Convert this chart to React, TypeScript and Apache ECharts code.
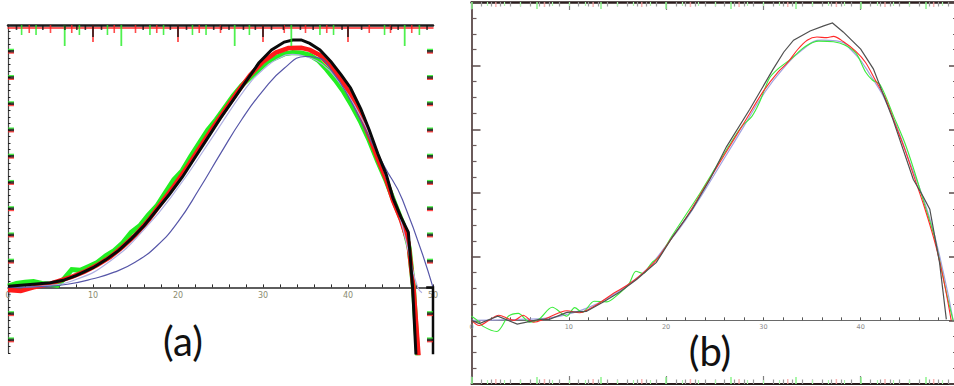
import React, { useEffect, useRef } from "react";
import * as echarts from "echarts";

// ---------- Panel (a) curves: [x, y] ----------
const blackA = [[0,0.004],[1.5,0.008],[3,0.012],[5,0.018],[6.5,0.027],[8,0.045],[10,0.075],[11.5,0.105],[13,0.14],[14.5,0.185],[16,0.235],[17.5,0.295],[19,0.355],[20.5,0.42],[22,0.495],[23.5,0.57],[25,0.645],[26.5,0.715],[28,0.785],[29.5,0.855],[31,0.905],[32.5,0.935],[33.5,0.943],[34.5,0.943],[35.5,0.93],[36.7,0.905],[38,0.86],[39.2,0.81],[40.3,0.76],[41.5,0.68],[42.5,0.6],[43.5,0.51],[44.5,0.43],[45.3,0.34],[46.2,0.27],[47.1,0.21],[47.6,0.0],[48.0,-0.26]];
const blackTailA = [[49.2,0],[50,0],[50,-0.26]];
const redA = [[0,-0.01],[1.5,-0.014],[3,0.0],[4.5,0.01],[6,0.025],[7.5,0.04],[9,0.06],[10.5,0.085],[12,0.115],[13.5,0.155],[15,0.2],[16.5,0.255],[18,0.32],[19.5,0.385],[21,0.455],[22.5,0.53],[24,0.605],[25.5,0.675],[27,0.745],[28.5,0.81],[30,0.86],[31.5,0.895],[33,0.912],[34.5,0.913],[35.5,0.905],[36.7,0.885],[38,0.84],[39.2,0.79],[40.3,0.735],[41.5,0.655],[42.5,0.575],[43.5,0.49],[44.5,0.41],[45.3,0.33],[46.2,0.26],[47.1,0.17],[47.7,0.0],[48.3,-0.26]];
const greenA = [[0,0.005],[1,0.015],[2,0.02],[3,0.022],[4,0.015],[5,0.012],[5.8,0.008],[6.5,0.03],[7.5,0.068],[8.5,0.065],[9.5,0.08],[10.5,0.095],[11.5,0.12],[12.5,0.14],[13.5,0.17],[14.5,0.21],[15.5,0.235],[16.5,0.275],[17.5,0.31],[18.5,0.36],[19.5,0.41],[20.5,0.445],[21.5,0.5],[22.5,0.55],[23.5,0.6],[24.5,0.64],[25.5,0.685],[26.5,0.73],[27.5,0.77],[28.5,0.8],[29.5,0.83],[30.5,0.86],[31.5,0.875],[32.5,0.89],[33.5,0.895],[34.5,0.893],[35.5,0.885],[36.5,0.865],[37.5,0.83],[38.5,0.79],[39.5,0.745],[40.5,0.69],[41.5,0.63],[42.5,0.56],[43.5,0.48],[44.5,0.405],[45.5,0.32],[46.5,0.24],[47.2,0.15],[47.7,0.0],[48.2,-0.26]];
const lavenderA = [[0,0],[4,0.005],[8,0.03],[12,0.1],[16,0.22],[20,0.38],[24,0.57],[28,0.76],[30,0.83],[32,0.875],[33.5,0.888],[35,0.88],[37,0.85],[39,0.78],[41,0.68],[43,0.55],[44.5,0.42],[46,0.28],[47.3,0.11],[48.2,0],[48.7,-0.02]];
const blueA = [[0,0],[4,0.003],[7,0.012],[10,0.033],[12.5,0.058],[15,0.097],[17.5,0.158],[20,0.25],[22.5,0.375],[25,0.51],[27.5,0.64],[30,0.75],[32.5,0.835],[35,0.88],[36.5,0.875],[38.2,0.82],[40,0.73],[42.2,0.59],[44.3,0.46],[46.4,0.335],[50,0]];

// ---------- Panel (a) rug / side tick positions ----------
const aBlackShort = [1.0,4.1,6.7,8.1,9.1,11,15.9,19.1,21,24.2,25.1,26,27.7,29.1,31,32.4,34.4,35.9,39.3,41.6,45.1,45.9,49.3];
const aBlackLong = [10,20,30,40];
const aRed = [2.5,5,7.5,12.5,15,17.5,22.5,25,32.5,35,37.5,42.5,45,47.5];
const aGreenLong = [6.67,13.33,26.67,33.33,46.67];
const aGreenMid = [1.6,3.3,8.4,11.7,16.7,18.3,21.7,23.3,28.4,36.7,38.3,44.3,48.4];
const aSideTicks = [-0.2,-0.1,0.1,0.2,0.3,0.4,0.5,0.6,0.7,0.8,0.9];

// ---------- Panel (b) curves: [x, y] ----------
const blackB = [[0,0.0],[0.8,-0.01],[2.7,0.013],[4.7,-0.012],[7,0.003],[8,0.003],[9.8,0.025],[11.8,0.028],[13.5,0.057],[15.2,0.088],[17,0.129],[19,0.182],[20.7,0.264],[22.7,0.349],[24.5,0.443],[26.2,0.545],[28.6,0.663],[31.0,0.789],[32.1,0.843],[33.1,0.88],[34.8,0.909],[36.2,0.925],[37.1,0.934],[38.2,0.906],[40,0.852],[41.3,0.79],[43.3,0.632],[45.4,0.443],[46.4,0.39],[47.1,0.349],[48.1,0.182],[48.8,0.003]];
const redB = [[0,0.0],[0.8,-0.016],[1.8,0.0],[2.8,0.016],[3.8,0.005],[4.4,0.0],[5.3,0.016],[6.4,-0.006],[7.6,0.005],[9.8,0.03],[11.1,0.024],[12.6,0.044],[14.6,0.085],[16,0.11],[17.5,0.145],[19,0.19],[20.5,0.255],[22,0.32],[24,0.42],[26,0.52],[28,0.62],[30,0.72],[31.5,0.78],[32.5,0.81],[33.5,0.85],[34.5,0.88],[35.5,0.89],[36.5,0.888],[37.2,0.892],[38.2,0.876],[39.5,0.845],[40.5,0.81],[41.5,0.755],[42.5,0.7],[43.5,0.62],[44.5,0.54],[45.5,0.45],[46.5,0.36],[47.3,0.28],[48,0.2],[48.7,0.1],[49.3,0.0]];
const greenB = [[0,0.013],[0.6,0.0],[1.2,-0.019],[2.6,-0.035],[3.8,0.013],[4.8,0.022],[6,-0.006],[7,0.005],[8.3,0.041],[9.8,0.013],[10.6,0.04],[11.4,0.025],[12.6,0.06],[13.9,0.058],[15.2,0.085],[16.2,0.115],[16.9,0.154],[17.6,0.147],[18.5,0.18],[19.3,0.2],[20.5,0.26],[22,0.33],[23.5,0.4],[25,0.475],[26.5,0.55],[27.8,0.61],[28.8,0.64],[29.6,0.685],[30.6,0.76],[31.5,0.79],[32.8,0.82],[34.3,0.86],[35.7,0.877],[37.2,0.875],[38.3,0.866],[39.5,0.84],[40.5,0.78],[41.2,0.755],[42,0.74],[43.4,0.64],[44.5,0.56],[45.5,0.47],[46.5,0.37],[47.5,0.27],[48.3,0.16],[49,0.06],[49.5,0.0]];
const lavenderB = [[0,0],[5,0.003],[8,0.008],[10,0.02],[12,0.04],[14,0.07],[16,0.11],[18,0.16],[20,0.235],[22,0.315],[24,0.41],[26,0.51],[28,0.61],[30,0.71],[32,0.79],[34,0.85],[36,0.88],[37.5,0.878],[39,0.85],[41,0.77],[43,0.66],[45,0.5],[47,0.33],[48.5,0.15],[49.5,0.0]];
const bRed = [2.5,7.5,12.5,17.5,22.5,27.5,32.5,37.5,42.5,47.5];

const line = (data: number[][], xi: number, yi: number, color: string, width: number, z: number, smooth: boolean | number = false) => ({
  type: "line", data, xAxisIndex: xi, yAxisIndex: yi, showSymbol: false, symbol: "none", smooth,
  lineStyle: { color, width, join: "miter", cap: "butt" }, z, silent: true,
});

const rug = (xs: number[], yv: number, xi: number, yi: number, color: string, len: number, w: number, down: boolean, z: number) => ({
  type: "scatter", data: xs.map((x) => [x, yv]), xAxisIndex: xi, yAxisIndex: yi,
  symbol: "rect", symbolSize: [w, len], symbolOffset: [0, down ? len / 2 : -len / 2],
  itemStyle: { color }, clip: false, silent: true, z,
});

const side = (ys: number[], xv: number, xi: number, yi: number, color: string, w: number, h: number, dx: number, dy: number, z: number) => ({
  type: "scatter", data: ys.map((y) => [xv, y]), xAxisIndex: xi, yAxisIndex: yi,
  symbol: "rect", symbolSize: [w, h], symbolOffset: [dx, dy],
  itemStyle: { color }, clip: false, silent: true, z,
});

const hidden = { show: false };

export default function App() {
  const ref = useRef<HTMLDivElement>(null);
  useEffect(() => {
    const chart = echarts.init(ref.current!, null, { renderer: "svg" });
    const option: any = {
      animation: false,
      textStyle: { fontFamily: "DejaVu Sans" },
      grid: [
        { left: 8, top: 25, width: 425, height: 328, outerBoundsMode: "none", containLabel: false },
        { left: 471.5, top: 2, width: 486.5, height: 382, outerBoundsMode: "none", containLabel: false },
        { left: 8, top: 25, width: 425, height: 262.4, outerBoundsMode: "none", containLabel: false },
        { left: 471.5, top: 2, width: 486.5, height: 318.33, outerBoundsMode: "none", containLabel: false },
      ],
      xAxis: [
        { // 0: (a) data scale (hidden)
          type: "value", gridIndex: 0, min: 0, max: 50, show: false,
          axisLine: { onZero: false }, splitLine: hidden,
        },
        { // 1: (a) top border
          type: "value", gridIndex: 0, min: 0, max: 50, position: "top",
          axisLine: { onZero: false, lineStyle: { color: "#1c1c1c", width: 2.5 } },
          axisTick: hidden, axisLabel: hidden, splitLine: hidden,
        },
        { // 2: (a) red line under top border
          type: "value", gridIndex: 0, min: 0, max: 50, position: "top", offset: -2.5,
          axisLine: { onZero: false, lineStyle: { color: "#ff2a2a", width: 1.5 } },
          axisTick: hidden, axisLabel: hidden, splitLine: hidden,
        },
        { // 3: (b) data scale (hidden)
          type: "value", gridIndex: 1, min: 0, max: 50, show: false,
          axisLine: { onZero: false }, splitLine: hidden,
        },
        { // 4: (b) top border gray rug
          type: "value", gridIndex: 1, min: 0, max: 50, interval: 10, position: "top",
          axisLine: { onZero: false, lineStyle: { color: "#2a1c1c", width: 2.5 } },
          axisTick: { inside: true, length: 8, lineStyle: { color: "#808080", width: 1.2 } },
          minorTick: { show: true, splitNumber: 10, length: 4.5, lineStyle: { color: "#9a9a9a", width: 1.2 } },
          axisLabel: hidden, splitLine: hidden, minorSplitLine: hidden,
        },
        { // 5: (b) top green rug
          type: "value", gridIndex: 1, min: 0, max: 50, interval: 20 / 3, position: "top",
          axisLine: { show: false, onZero: false },
          axisTick: { inside: true, length: 7, lineStyle: { color: "#8ef58e", width: 1.5 } },
          minorTick: { show: true, splitNumber: 4, length: 4, lineStyle: { color: "#aef5ae", width: 1.2 } },
          axisLabel: hidden, splitLine: hidden, minorSplitLine: hidden,
        },
        { // 6: (b) bottom border gray rug
          type: "value", gridIndex: 1, min: 0, max: 50, interval: 10, position: "bottom",
          axisLine: { onZero: false, lineStyle: { color: "#2a1c1c", width: 2 } },
          axisTick: { inside: true, length: 8, lineStyle: { color: "#808080", width: 1.2 } },
          minorTick: { show: true, splitNumber: 10, length: 4.5, lineStyle: { color: "#9a9a9a", width: 1.2 } },
          axisLabel: hidden, splitLine: hidden, minorSplitLine: hidden,
        },
        { // 7: (b) bottom green rug
          type: "value", gridIndex: 1, min: 0, max: 50, interval: 20 / 3, position: "bottom",
          axisLine: { show: false, onZero: false },
          axisTick: { inside: true, length: 7, lineStyle: { color: "#8ef58e", width: 1.5 } },
          minorTick: { show: true, splitNumber: 4, length: 4, lineStyle: { color: "#aef5ae", width: 1.2 } },
          axisLabel: hidden, splitLine: hidden, minorSplitLine: hidden,
        },
        { // 8: (a) zero-line axis with labels
          type: "value", gridIndex: 2, min: 0, max: 50, interval: 10, position: "bottom",
          axisLine: { onZero: false, lineStyle: { color: "#2a2a2a", width: 1.5 } },
          axisTick: { inside: true, length: 3, lineStyle: { color: "#2a2a2a" } },
          minorTick: { show: true, splitNumber: 5, length: 3, lineStyle: { color: "#2a2a2a" } },
          axisLabel: { fontSize: 8, color: "#8b8b70", margin: 4 },
          splitLine: hidden, minorSplitLine: hidden,
        },
        { // 9: (b) zero-line axis with labels
          type: "value", gridIndex: 3, min: 0, max: 50, interval: 10, position: "bottom",
          axisLine: { onZero: false, lineStyle: { color: "#6a6a6a", width: 1.2 } },
          axisTick: { inside: true, length: 3, lineStyle: { color: "#555" } },
          minorTick: { show: true, splitNumber: 5, length: 3, lineStyle: { color: "#555" } },
          axisLabel: { fontSize: 6.5, color: "#8a8a8a", margin: 3, showMaxLabel: false },
          splitLine: hidden, minorSplitLine: hidden,
        },
      ],
      yAxis: [
        { // 0: (a) left
          type: "value", gridIndex: 0, min: -0.25, max: 1, interval: 0.025, position: "left",
          axisLine: { show: true, onZero: false, lineStyle: { color: "#444", width: 1.2 } },
          axisTick: { inside: true, length: 2.5, lineStyle: { color: "#222" } },
          axisLabel: hidden, splitLine: hidden,
        },
        { // 1: (b) left
          type: "value", gridIndex: 1, min: -0.2, max: 1, interval: 0.2, position: "left",
          axisLine: { show: true, onZero: false, lineStyle: { color: "#6b5b5b", width: 2 } },
          axisTick: { inside: true, length: 9, lineStyle: { color: "#5a4a4a", width: 1.5 } },
          minorTick: { show: true, splitNumber: 4, length: 5, lineStyle: { color: "#6b5b5b", width: 1.2 } },
          axisLabel: hidden, splitLine: hidden, minorSplitLine: hidden,
        },
        { // 2: (b) right
          type: "value", gridIndex: 1, min: -0.2, max: 1, interval: 0.2, position: "right",
          axisLine: { show: true, onZero: false, lineStyle: { color: "#6b5b5b", width: 2 } },
          axisTick: { inside: true, length: 9, lineStyle: { color: "#5a4a4a", width: 1.5 } },
          minorTick: { show: true, splitNumber: 4, length: 5, lineStyle: { color: "#6b5b5b", width: 1.2 } },
          axisLabel: hidden, splitLine: hidden, minorSplitLine: hidden,
        },
        { type: "value", gridIndex: 2, min: 0, max: 1, show: false, splitLine: hidden },
        { type: "value", gridIndex: 3, min: 0, max: 1, show: false, splitLine: hidden },
      ],
      series: [
        // (a) curves
        line(greenA, 0, 0, "#22ee22", 5, 2),
        line(redA, 0, 0, "#ff1a1a", 4.5, 3),
        line(lavenderA, 0, 0, "#b0b0e2", 1.2, 4, true),
        line(blueA, 0, 0, "#5656a8", 1.2, 4, true),
        line(blackA, 0, 0, "#0a0a0a", 3, 5),
        line(blackTailA, 0, 0, "#0a0a0a", 2.5, 5),
        // (a) top rug
        rug(aGreenLong, 1, 0, 0, "#22ee22", 21, 1.8, true, 6),
        rug(aBlackLong, 1, 0, 0, "#ff2020", 17, 1.8, true, 6),
        rug(aBlackLong, 1, 0, 0, "#111", 12, 1.8, true, 7),
        rug(aGreenMid, 1, 0, 0, "#22ee22", 10, 1.6, true, 6),
        rug(aRed, 1, 0, 0, "#ff2020", 8, 1.6, true, 6),
        rug(aBlackShort, 1, 0, 0, "#111", 5, 1.6, true, 7),
        // (a) side ticks
        side(aSideTicks, 0, 0, 0, "#22ee22", 6, 2, 3, -1.5, 6),
        side(aSideTicks, 0, 0, 0, "#ff2020", 6, 2, 3, 1.5, 6),
        side(aSideTicks, 0, 0, 0, "#111", 6, 2.5, 3, 0, 7),
        side(aSideTicks, 50, 0, 0, "#22ee22", 6, 2, -3, -1.5, 6),
        side(aSideTicks, 50, 0, 0, "#ff2020", 6, 2, -3, 1.5, 6),
        side(aSideTicks, 50, 0, 0, "#111", 6, 2.5, -3, 0, 7),
        // (b) curves
        line(lavenderB, 3, 1, "#a0a2e0", 1.2, 2, true),
        line(greenB, 3, 1, "#3cec3c", 1.1, 3, 0.3),
        line(redB, 3, 1, "#ff2a2a", 1.1, 4, 0.3),
        line(blackB, 3, 1, "#505050", 1.2, 5),
        // (b) red rugs
        rug(bRed, 1, 3, 1, "#f5a3a3", 5, 1.5, true, 6),
        rug(bRed, -0.2, 3, 1, "#f5a3a3", 5, 1.5, false, 6),
      ],
      graphic: [
        { type: "text", x: 183, y: 341, style: { text: "(a)", font: "40px Lato", fill: "#111", textAlign: "center", textVerticalAlign: "middle", align: "center", verticalAlign: "middle" } },
        { type: "text", x: 710, y: 351, style: { text: "(b)", font: "40px Lato", fill: "#111", textAlign: "center", textVerticalAlign: "middle", align: "center", verticalAlign: "middle" } },
      ],
    };
    chart.setOption(option);
    return () => chart.dispose();
  }, []);
  return <div ref={ref} style={{ position: "absolute", left: 0, top: 0, width: 954, height: 386 }} />;
}
